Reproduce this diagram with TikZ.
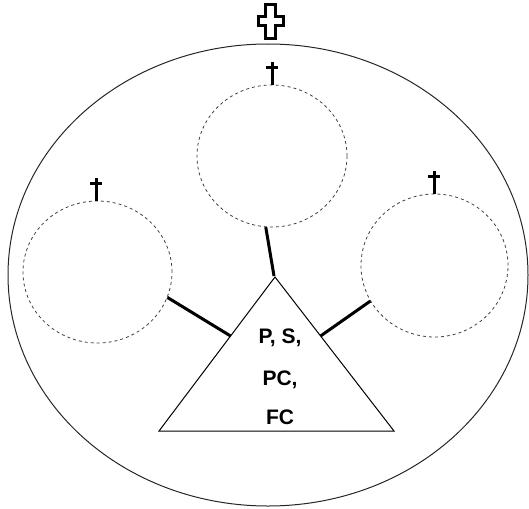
\documentclass[tikz,border=0pt]{standalone}
\usepackage{fontspec}
\setmainfont{Liberation Sans}
\usetikzlibrary{shapes.geometric,calc}
\begin{document}
\begin{tikzpicture}[x=1pt,y=-1pt,
  ring/.style={ellipse,draw=black!75,dash pattern=on 3pt off 3pt,line width=0.8pt,inner sep=0pt,minimum width=149pt,minimum height=142pt},
  link/.style={line width=3pt},
  daggerline/.style={line width=3pt},
  lbl/.style={font=\bfseries\fontsize{21}{21}\selectfont,anchor=base,inner sep=0pt}]
\useasboundingbox (0,0) rectangle (529,508);
% outer ellipse
\node[ellipse,draw=black!85,line width=1pt,minimum width=520pt,minimum height=462pt,inner sep=0pt] (outer) at (268,275) {};
% dashed circles
\node[ring,minimum width=150pt] (tc) at (272,156) {};
\node[ring] (lc) at (97.5,272) {};
\node[ring,minimum width=147pt,minimum height=143pt] (rc) at (434.5,265.5) {};
% triangle
\coordinate (apex) at (275,277);
\coordinate (bl) at (159,431);
\coordinate (br) at (394,431);
\draw[line width=1pt] (apex) -- (bl) -- (br) -- cycle;
\coordinate (pl) at ($(apex)!0.383!(bl)$);
\coordinate (pr) at ($(apex)!0.383!(br)$);
\coordinate (pt) at ($(apex)+(-1,-1)$);
% connectors
\draw[link] (tc.-95) -- (pt);
\draw[link] (lc.-20) -- (pl);
\draw[link] (rc.209) -- (pr);
% labels
\node[lbl] (l1) at (280,343) {P, S,};
\node[lbl] (l2) at (280,385) {PC,};
\node[lbl] (l3) at (280,424) {FC};
% small daggers
\foreach \c/\dx in {tc/0,lc/-1.5,rc/-0.5}{
  \draw[daggerline] ($(\c.north)+(\dx,0)$) -- ++(0,-23);
  \draw[daggerline] ($(\c.north)+(\dx-6,-17)$) -- ++(12,0);
}
% big outlined cross on top of the outer ellipse
\draw[line width=3pt,fill=white,line join=miter]
  (265.5,38.5) -- (265.5,25.5) -- (258.5,25.5) -- (258.5,16.5) -- (265.5,16.5) -- (265.5,4.5)
  -- (275.5,4.5) -- (275.5,16.5) -- (283.5,16.5) -- (283.5,25.5) -- (275.5,25.5) -- (275.5,38.5) -- cycle;
\end{tikzpicture}
\end{document}
